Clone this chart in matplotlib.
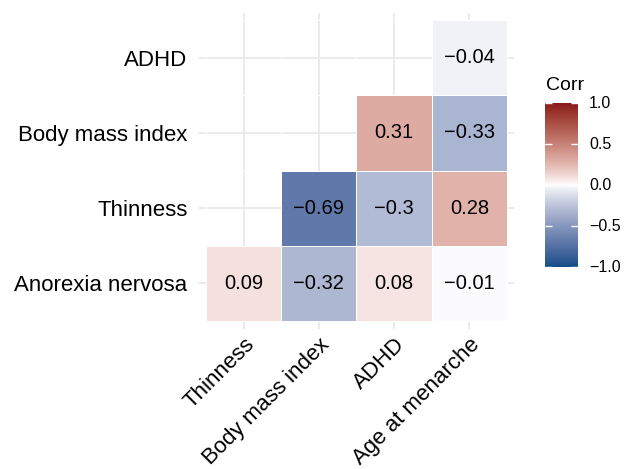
import numpy as np
import matplotlib
matplotlib.use("Agg")
import matplotlib.pyplot as plt
from matplotlib.colors import ListedColormap

plt.rcParams['font.family'] = ['Liberation Sans', 'DejaVu Sans']

# Correlation data (lower triangle layout)
row_labels = ["Anorexia nervosa", "Thinness", "Body mass index", "ADHD"]
col_labels = ["Thinness", "Body mass index", "ADHD", "Age at menarche"]
row_anorexia = [0.09, -0.32, 0.08, -0.01]
row_thinness = [np.nan, -0.69, -0.30, 0.28]
row_bmi = [np.nan, np.nan, 0.31, -0.33]
row_adhd = [np.nan, np.nan, np.nan, -0.04]
legend_ticks = [-1.0, -0.5, 0.0, 0.5, 1.0]

corr = np.array([row_anorexia, row_thinness, row_bmi, row_adhd])


# --- Lab-space gradient: dodgerblue4 -> white -> firebrick4 ---
def srgb_to_lab(rgb):
    rgb = np.asarray(rgb, float)
    lin = np.where(rgb <= 0.04045, rgb / 12.92, ((rgb + 0.055) / 1.055) ** 2.4)
    M = np.array([[0.4124564, 0.3575761, 0.1804375],
                  [0.2126729, 0.7151522, 0.0721750],
                  [0.0193339, 0.1191920, 0.9503041]])
    xyz = M @ lin
    white = np.array([0.95047, 1.0, 1.08883])
    t = xyz / white
    d = 6 / 29
    f = np.where(t > d ** 3, np.cbrt(t), t / (3 * d * d) + 4 / 29)
    return np.array([116 * f[1] - 16, 500 * (f[0] - f[1]), 200 * (f[1] - f[2])])


def lab_to_srgb(lab):
    L, a, b = lab
    fy = (L + 16) / 116
    fx = fy + a / 500
    fz = fy - b / 200
    d = 6 / 29
    def finv(f):
        return np.where(f > d, f ** 3, 3 * d * d * (f - 4 / 29))
    white = np.array([0.95047, 1.0, 1.08883])
    xyz = np.array([finv(fx), finv(fy), finv(fz)]) * white
    Minv = np.array([[3.2404542, -1.5371385, -0.4985314],
                     [-0.9692660, 1.8760108, 0.0415560],
                     [0.0556434, -0.2040259, 1.0572252]])
    lin = Minv @ xyz
    lin = np.clip(lin, 0, 1)
    rgb = np.where(lin <= 0.0031308, 12.92 * lin, 1.055 * lin ** (1 / 2.4) - 0.055)
    return np.clip(rgb, 0, 1)


low = np.array([0x10, 0x4E, 0x8B]) / 255
mid = np.array([1.0, 1.0, 1.0])
high = np.array([0x8B, 0x1A, 0x1A]) / 255
lab_low, lab_mid, lab_high = srgb_to_lab(low), srgb_to_lab(mid), srgb_to_lab(high)
n = 512
cols = []
for v in np.linspace(-1, 1, n):
    t = abs(v) ** 0.85
    end = lab_low if v < 0 else lab_high
    cols.append(lab_to_srgb(lab_mid + t * (end - lab_mid)))
cmap = ListedColormap(cols)

# --- figure layout ---
W, H = 633, 469
fig = plt.figure(figsize=(W / 100, H / 100), dpi=100)
px_l, px_r, px_t, px_b = 198.5, 514.5, 12.5, 328.5
ax = fig.add_axes([px_l / W, 1 - px_b / H, (px_r - px_l) / W, (px_b - px_t) / H])

nr, nc = corr.shape
masked = np.ma.masked_invalid(corr)
xe = np.arange(nc + 1) - 0.5
ye = np.arange(nr + 1) - 0.5
ax.pcolormesh(xe, ye, masked, cmap=cmap, vmin=-1, vmax=1,
              edgecolors='white', linewidth=0.5, zorder=2)

for i in range(nr):
    for j in range(nc):
        v = corr[i, j]
        if np.isnan(v):
            continue
        s = f"{round(v, 2):.2f}".rstrip('0').rstrip('.') if v != 0 else "0"
        s = s.replace('-', '\u2212')
        ax.text(j, i, s, ha='center', va='center', fontsize=14.5,
                color='black', zorder=3)

ax.set_xlim(-0.6, nc - 0.4)
ax.set_ylim(-0.6, nr - 0.4)
ax.set_xticks(range(nc))
ax.set_yticks(range(nr))
ax.set_xticklabels(col_labels, rotation=45, ha='right', va='top',
                   rotation_mode='anchor', fontsize=16)
ax.set_yticklabels(row_labels, fontsize=16)
ax.tick_params(axis='both', length=0, colors='black')
ax.tick_params(axis='x', pad=4)
ax.tick_params(axis='y', pad=8)
ax.grid(True, color='#EBEBEB', linewidth=1.4, zorder=0)
ax.set_axisbelow(True)
for sp in ax.spines.values():
    sp.set_visible(False)

# --- colour bar legend ---
cb_l, cb_r, cb_t, cb_b = 545, 578, 103, 267
cax = fig.add_axes([cb_l / W, 1 - cb_b / H, (cb_r - cb_l) / W, (cb_b - cb_t) / H])
grad = np.linspace(-1, 1, 300).reshape(-1, 1)
cax.imshow(grad, cmap=cmap, vmin=-1, vmax=1, aspect='auto', origin='lower',
           extent=[0, 1, -1, 1])
cax.set_xlim(0, 1)
cax.set_ylim(-1, 1)
for t in legend_ticks:
    cax.plot([0, 0.2], [t, t], color='white', lw=1.0, solid_capstyle='butt')
    cax.plot([0.8, 1], [t, t], color='white', lw=1.0, solid_capstyle='butt')
    cax.text(1 + 11 / (cb_r - cb_l), t, f"{t:.1f}".replace('-', '\u2212'),
             ha='left', va='center', fontsize=11.5, color='black')
cax.set_xticks([])
cax.set_yticks([])
for sp in cax.spines.values():
    sp.set_visible(False)
fig.text(546 / W, 1 - 85 / H, "Corr", ha='left', va='center', fontsize=14)

fig.savefig("out.png", dpi=100)
